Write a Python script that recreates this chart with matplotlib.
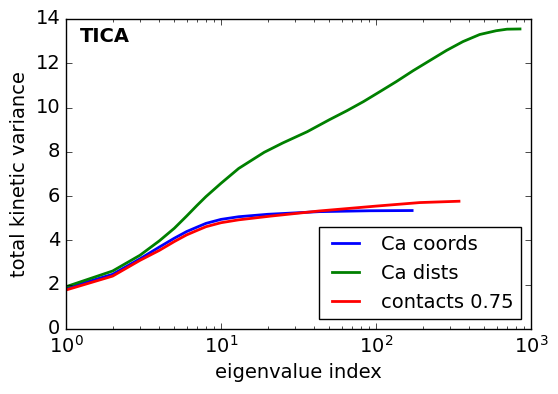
import matplotlib
matplotlib.use("Agg")
import matplotlib.pyplot as plt

plt.style.use("classic")
plt.rcParams['font.family'] = ['DejaVu Sans']

ca_coords_x = [1, 2, 3, 4, 5, 6, 7, 8, 10, 13, 20, 43, 91, 171]
ca_coords_y = [1.84, 2.47, 3.17, 3.70, 4.10, 4.40, 4.60, 4.77, 4.95, 5.07, 5.18, 5.30,
               5.34, 5.35]

ca_dists_x = [1, 2, 3, 4, 5, 6, 7, 8, 10, 13, 19, 25, 36, 50, 65, 83, 106, 135, 174,
              222, 285, 364, 467, 596, 700, 849]
ca_dists_y = [1.91, 2.62, 3.33, 3.98, 4.55, 5.10, 5.58, 5.98, 6.58, 7.25, 7.98, 8.40,
              8.91, 9.45, 9.86, 10.27, 10.72, 11.17, 11.67, 12.12, 12.58, 12.98, 13.30,
              13.47, 13.54, 13.55]

contacts_x = [1, 2, 3, 4, 5, 6, 7, 8, 10, 13, 21, 43, 100, 192, 343]
contacts_y = [1.76, 2.39, 3.10, 3.55, 3.95, 4.25, 4.45, 4.62, 4.80, 4.93, 5.10, 5.33,
              5.55, 5.71, 5.77]

fig = plt.figure(figsize=(5.58, 3.94), dpi=100, facecolor='white')
ax = fig.add_axes([66/558, 1-329/394, (531-66)/558, (329-19)/394])
ax.plot(ca_coords_x, ca_coords_y, color='blue', lw=2, label='Ca coords')
ax.plot(ca_dists_x, ca_dists_y, color='green', lw=2, label='Ca dists')
ax.plot(contacts_x, contacts_y, color='red', lw=2, label='contacts 0.75')
ax.set_xscale('log')
ax.set_xlim(1, 1000)
ax.set_ylim(0, 14)
ax.set_yticks([0, 2, 4, 6, 8, 10, 12, 14])
ax.tick_params(labelsize=14)
ax.set_xlabel('eigenvalue index', fontsize=14)
ax.set_ylabel('total kinetic variance', fontsize=14)
ax.text(0.03, 0.975, 'TICA', transform=ax.transAxes, fontsize=14, fontweight='bold',
        va='top', ha='left')
leg = ax.legend(loc='lower right', fontsize=14, frameon=True, fancybox=False)
leg.get_frame().set_edgecolor('black')
fig.savefig('out.png', dpi=100, facecolor='white')
